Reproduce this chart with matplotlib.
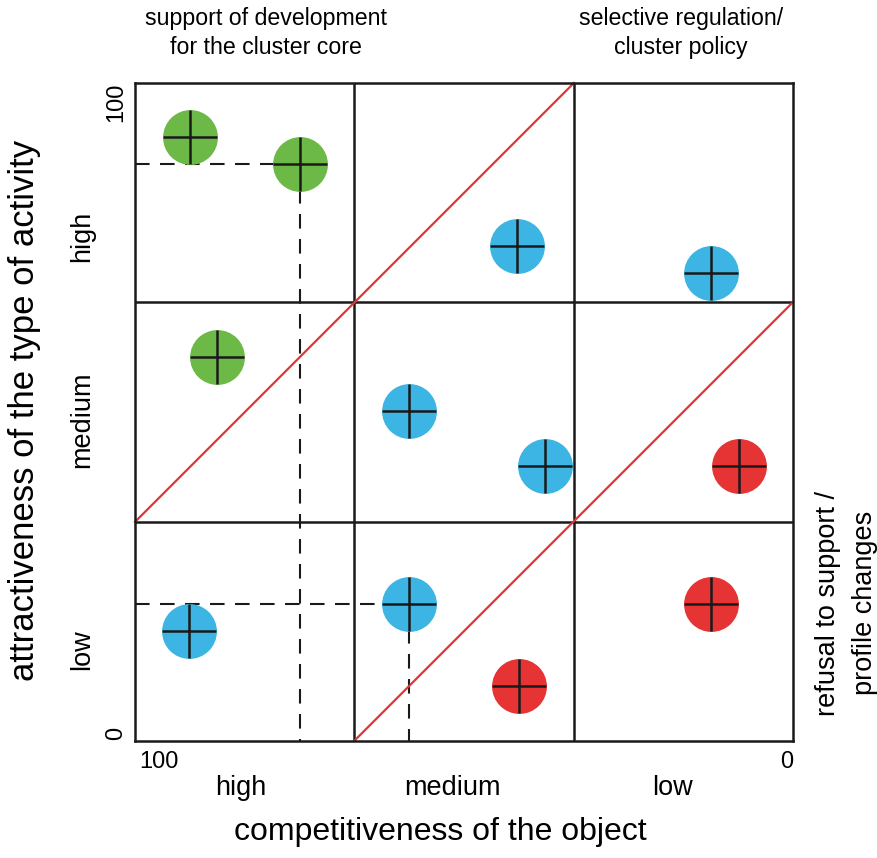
import matplotlib
matplotlib.use('Agg')
import matplotlib.pyplot as plt

plt.rcParams['font.family'] = ['Liberation Sans', 'DejaVu Sans']

W, H = 878, 858

# points: competitiveness (x, 100 at left), attractiveness (y)
green_x = [91.6, 74.9, 87.5]
green_y = [91.8, 87.7, 58.4]
blue_x = [41.9, 12.5, 58.4, 37.7, 91.8, 58.4]
blue_y = [75.2, 71.1, 50.2, 41.8, 16.7, 20.8]
red_x = [8.2, 12.5, 41.6]
red_y = [41.8, 20.8, 8.4]

# projection guides (dashed) for two of the points
guide_x = [74.9, 58.4]
guide_y = [87.7, 20.8]

# red diagonals
diag1_x = [100, 33.3]
diag1_y = [33.3, 100]
diag2_x = [66.7, 0]
diag2_y = [0, 66.7]

bounds = [0, 33.3, 66.7, 100]
levels = ['high', 'medium', 'low']

GREEN = '#6cb947'
BLUE = '#3cb5e5'
RED = '#e53433'
INK = '#1a1a1a'

fig = plt.figure(figsize=(W / 100, H / 100), dpi=100)
ax = fig.add_axes([135 / W, 1 - 741 / H, (793 - 135) / W, (741 - 83) / H])
ax.set_xlim(100, 0)
ax.set_ylim(0, 100)
ax.set_xticks([])
ax.set_yticks([])
for s in ax.spines.values():
  s.set_linewidth(1.8)
  s.set_color(INK)

# grid
for b in bounds[1:-1]:
  ax.axvline(b, color=INK, lw=1.8, zorder=2)
  ax.axhline(b, color=INK, lw=1.8, zorder=2)

ax.plot(diag1_x, diag1_y, color=RED, lw=1.6, zorder=2, clip_on=False)
ax.plot(diag2_x, diag2_y, color=RED, lw=1.6, zorder=2, clip_on=False)

for gx, gy in zip(guide_x, guide_y):
  ax.plot([100, gx], [gy, gy], color=INK, lw=1.5, ls=(0, (7, 5)), zorder=1)
  ax.plot([gx, gx], [gy, 0], color=INK, lw=1.5, ls=(0, (7, 5)), zorder=1)

ms = 39.5
for xs, ys, c in [(green_x, green_y, GREEN), (blue_x, blue_y, BLUE), (red_x, red_y, RED)]:
  ax.plot(xs, ys, 'o', ms=ms, color=c, mec='none', zorder=4)
  ax.plot(xs, ys, '+', ms=ms, color=INK, mew=1.8, zorder=5)

def px(x, y):
  return x / W, 1 - y / H

# axis numbers and levels
fs_num = 17
fs_lev = 19.5
fig.text(*px(159, 762), '100', ha='center', va='center', fontsize=fs_num)
fig.text(*px(787, 762), '0', ha='center', va='center', fontsize=fs_num)
for lab, xp in zip(levels, [241, 452, 673]):
  fig.text(*px(xp, 788), lab, ha='center', va='center', fontsize=fs_lev)
fig.text(*px(116, 102), '100', ha='center', va='center', rotation=90, fontsize=fs_num)
fig.text(*px(116, 733), '0', ha='center', va='center', rotation=90, fontsize=fs_num)
for lab, yp in zip(levels, [236, 420, 650]):
  fig.text(*px(82, yp), lab, ha='center', va='center', rotation=90, fontsize=fs_lev)

fig.text(*px(440, 832), 'competitiveness of the object', ha='center', va='center', fontsize=23)
fig.text(*px(25, 410), 'attractiveness of the type of activity', ha='center', va='center',
         rotation=90, fontsize=25)

fig.text(*px(266, 33), 'support of development\nfor the cluster core', ha='center', va='center',
         fontsize=16.7, linespacing=1.3)
fig.text(*px(681, 33), 'selective regulation/\ncluster policy', ha='center', va='center',
         fontsize=16.7, linespacing=1.3)
fig.text(*px(847, 603), 'refusal to support /\nprofile changes', ha='center', va='center',
         rotation=90, fontsize=19.5, linespacing=1.55)

fig.savefig('out.png', dpi=100)
